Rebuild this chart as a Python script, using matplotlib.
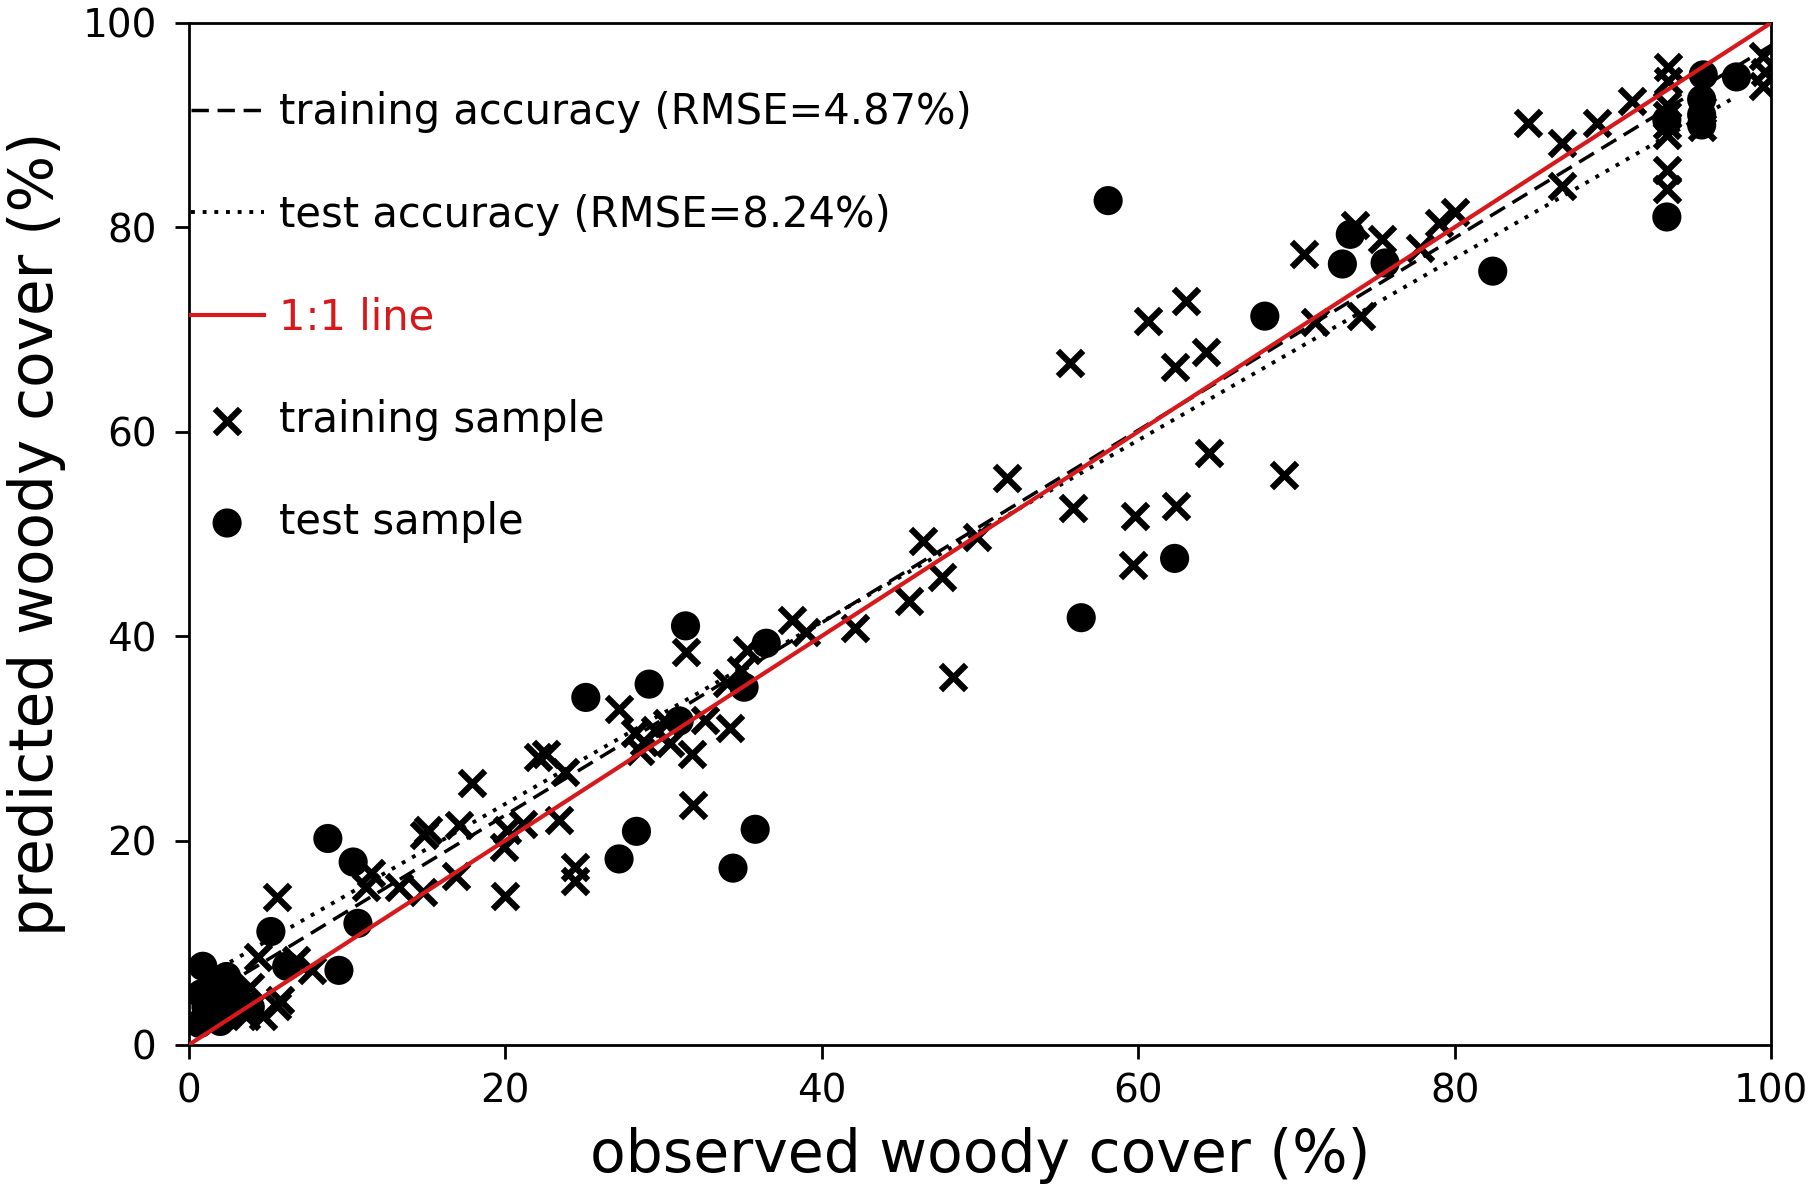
import numpy as np
import matplotlib
matplotlib.use("Agg")
from matplotlib import pyplot as plt

# training sample (observed, predicted) in %
train_obs = [84.6, 86.8, 89.0, 91.2, 93.5, 93.5, 93.4, 93.4, 93.4, 93.4, 93.4, 93.4,
             95.6, 95.6, 99.5, 99.6, 99.5, 86.8, 80.0, 79.0, 77.8, 75.4, 73.7, 74.1,
             71.2, 70.5, 69.2, 63.0, 60.6, 64.3, 62.3, 55.7, 64.5, 51.7, 55.9, 62.4,
             59.8, 59.7, 49.8, 46.4, 47.6, 45.5, 42.1, 48.3, 38.1, 39.0, 35.3, 34.9,
             34.0, 31.4, 34.2, 32.6, 31.8, 31.9, 30.2, 30.4, 28.2, 28.8, 29.5, 28.5,
             27.2, 22.1, 22.6, 23.8, 23.4, 20.1, 21.1, 19.9, 24.4, 24.4, 20.0, 17.9,
             17.1, 16.9, 14.9, 15.1, 14.8, 13.3, 11.2, 11.5, 5.6, 4.4, 3.9, 5.8,
             4.7, 3.6, 6.8, 7.8, 5.6]
train_pred = [90.2, 88.2, 90.2, 92.3, 95.7, 94.3, 92.0, 91.0, 90.0, 89.0, 85.6, 83.7,
              91.5, 89.8, 96.7, 95.2, 93.8, 84.0, 81.5, 80.4, 78.0, 78.8, 80.2, 71.3,
              70.7, 77.4, 55.8, 72.8, 70.8, 67.8, 66.3, 66.7, 57.9, 55.5, 52.5, 52.7,
              51.7, 47.0, 49.7, 49.3, 45.8, 43.4, 40.8, 36.0, 41.6, 40.4, 38.6, 36.7,
              35.4, 38.4, 31.0, 31.8, 28.5, 23.5, 31.5, 29.5, 30.5, 29.6, 30.8, 28.8,
              32.9, 28.2, 28.5, 26.7, 22.0, 21.0, 21.6, 19.4, 17.4, 16.0, 14.6, 25.6,
              21.5, 16.5, 20.5, 21.0, 15.0, 15.5, 15.5, 16.8, 14.5, 8.6, 5.7, 4.4,
              2.8, 2.8, 8.3, 7.3, 3.8]

# test sample (observed, predicted) in %
test_obs = [58.1, 68.0, 62.3, 56.4, 73.4, 72.9, 75.6, 82.4, 93.4, 95.7, 95.6, 95.6,
            95.6, 97.8, 93.4, 31.4, 29.1, 25.1, 31.0, 35.1, 36.5, 28.3, 27.2, 35.8,
            34.4, 8.8, 10.4, 5.2, 10.7, 9.5, 6.2, 0.9, 2.4, 1.1, 2.4, 0.7, 3.0, 3.9,
            1.5, 0.8, 1.8, 2.0]
test_pred = [82.6, 71.3, 47.6, 41.8, 79.3, 76.4, 76.5, 75.7, 81.0, 94.9, 92.5, 91.0,
             90.0, 94.7, 90.5, 41.0, 35.3, 34.0, 31.7, 35.0, 39.3, 20.9, 18.2, 21.1,
             17.3, 20.2, 17.9, 11.1, 11.9, 7.3, 7.7, 7.7, 6.7, 3.7, 2.8, 2.1, 5.1, 3.7,
             5.5, 5.0, 4.2, 2.3]

# fitted accuracy lines (end points)
train_line_obs = [0.7, 100.0]
train_line_pred = [4.3, 97.8]
test_line_obs = [0.7, 97.8]
test_line_pred = [6.4, 92.8]
one_to_one = [0, 100]

fig = plt.figure(figsize=(18.13, 11.97), dpi=100)
ax = fig.add_axes([0.104, 0.127, 0.873, 0.854])

ax.plot(train_line_obs, train_line_pred, color='black', ls=(0, (5, 2.5)), lw=2.5,
        label='training accuracy (RMSE=4.87%)', zorder=2)
ax.plot(test_line_obs, test_line_pred, color='black', ls=(0, (1, 2)), lw=2.8,
        label='test accuracy (RMSE=8.24%)', zorder=2)
ax.plot(one_to_one, one_to_one, color='#d7191c', lw=3, label='1:1 line', zorder=4)
ax.scatter(train_obs, train_pred, marker='x', s=330, color='black', linewidths=4.5,
           label='training sample', zorder=3)
ax.scatter(test_obs, test_pred, marker='o', s=440, color='black', edgecolors='none',
           label='test sample', zorder=3)

ax.set_xlim(0, 100)
ax.set_ylim(0, 100)
ax.set_xticks([0, 20, 40, 60, 80, 100])
ax.set_yticks([0, 20, 40, 60, 80, 100])
ax.tick_params(labelsize=28, length=10, width=2)
ax.tick_params(axis='y', pad=13)
ax.tick_params(axis='x', pad=10)
for sp in ax.spines.values():
    sp.set_linewidth(2)
ax.set_xlabel('observed woody cover (%)', fontsize=42, labelpad=12)
ax.set_ylabel('predicted woody cover (%)', fontsize=43, labelpad=12)

leg = ax.legend(loc='upper left', bbox_to_anchor=(0.0, 0.935), frameon=False,
                fontsize=30, handlelength=1.75, handletextpad=0.36, labelspacing=1.45,
                borderaxespad=0.0, borderpad=0.05, markerscale=1.0)
for txt in leg.get_texts():
    if txt.get_text() == '1:1 line':
        txt.set_color('#d7191c')

fig.savefig('out.png', dpi=100)
